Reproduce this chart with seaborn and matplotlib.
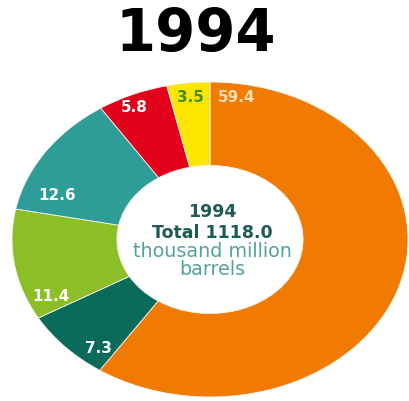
import matplotlib
matplotlib.use("Agg")
import matplotlib.pyplot as plt
import seaborn as sns
import numpy as np

sns.set_theme(style="white")
plt.rcParams['font.family'] = ['DejaVu Sans']

# ---- data ----
title = "1994"
regions = ["Middle East", "Africa", "S. & Cent. America", "Europe & Eurasia",
           "North America", "Asia Pacific"]
shares = [59.4, 7.3, 11.4, 12.6, 5.8, 3.5]
value_labels = ["59.4", "7.3", "11.4", "12.6", "5.8", "3.5"]
center_lines = ["1994", "Total 1118.0", "thousand million", "barrels"]

# ---- style ----
colors = ["#F07B00", "#0B6B5B", "#8CBF26", "#2E9D98", "#E2001A", "#FFE600"]
label_colors = ["#FCDDB8", "white", "white", "white", "white", "#3F8F1F"]
label_frac = [0.04, 0.2, 0.14, 0.19, 0.42, 0.5]   # position inside each wedge
label_rad = [0.91, 0.89, 0.88, 0.82, 0.92, 0.91]

fig = plt.figure(figsize=(4.10, 4.01), dpi=100)
fig.patch.set_facecolor("white")
ax = fig.add_axes([12 / 410, 4 / 401, 396 / 410, 315 / 401])

wedges, _ = ax.pie(shares, colors=colors, startangle=90, counterclock=False,
                   radius=1.0,
                   wedgeprops=dict(width=0.53, edgecolor="#f4f4f4", linewidth=0.6))
ax.set_aspect("auto")
ax.set_xlim(-1, 1)
ax.set_ylim(-1, 1)
ax.axis("off")

total = sum(shares)
cum = 0.0
for v, lab, c, f, r in zip(shares, value_labels, label_colors, label_frac, label_rad):
    theta = np.deg2rad(360.0 * (cum + f * v) / total)
    ax.text(r * np.sin(theta), r * np.cos(theta), lab, ha="center", va="center",
            fontsize=11, fontweight="bold", color=c)
    cum += v

center_y = [0.177, 0.044, -0.076, -0.19]
center_w = ["bold", "bold", "normal", "normal"]
center_s = [12.5, 12.5, 13.8, 13.8]
center_c = ["#1C5C55", "#1C5C55", "#55A29C", "#55A29C"]
for txt, y, w, s, c in zip(center_lines, center_y, center_w, center_s, center_c):
    ax.text(0.01, y, txt, ha="center", va="center", fontsize=s,
            fontweight=w, color=c)

fig.text(196 / 410, 1 - 35 / 401, title, ha="center", va="center",
         fontsize=41.5, fontweight="bold", color="black")

fig.savefig("out.png", dpi=100, facecolor="white")
